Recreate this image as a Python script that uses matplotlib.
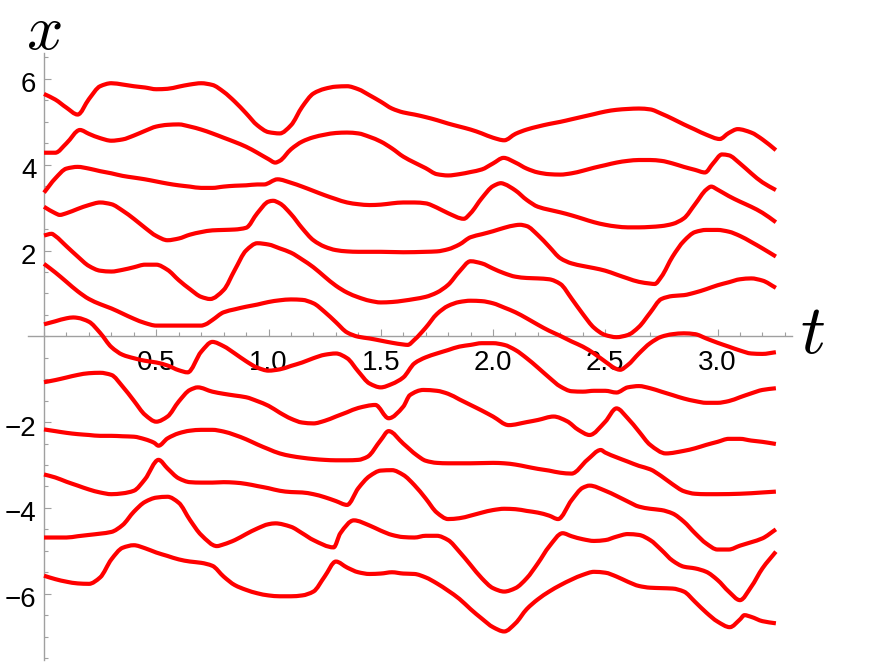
import matplotlib
matplotlib.use("Agg")
import numpy as np
import matplotlib.pyplot as plt
from matplotlib.ticker import FixedLocator, MultipleLocator, NullFormatter
from matplotlib.path import Path
from matplotlib.patches import PathPatch
from matplotlib.transforms import ScaledTranslation

# ---- data: 12 trajectories x(t) ----
t1 = [0, 0.05, 0.1, 0.15, 0.2, 0.25, 0.3, 0.35, 0.4, 0.45, 0.5, 0.55, 0.6, 0.65, 0.7, 0.75, 0.8, 0.85, 0.9, 0.95, 1.0, 1.05, 1.1, 1.15, 1.2, 1.25, 1.3, 1.35, 1.4, 1.45, 1.5, 1.55, 1.6, 1.65, 1.7, 1.75, 1.8, 1.85, 1.9, 1.95, 2.0, 2.05, 2.1, 2.15, 2.2, 2.25, 2.3, 2.35, 2.4, 2.45, 2.5, 2.55, 2.6, 2.65, 2.7, 2.75, 2.8, 2.85, 2.9, 2.95, 3.01, 3.05, 3.09, 3.15, 3.2, 3.26]
x1 = [5.65, 5.52, 5.33, 5.17, 5.53, 5.83, 5.90, 5.87, 5.83, 5.80, 5.76, 5.77, 5.82, 5.87, 5.90, 5.86, 5.70, 5.47, 5.20, 4.92, 4.76, 4.73, 4.92, 5.35, 5.66, 5.77, 5.82, 5.83, 5.76, 5.62, 5.47, 5.31, 5.22, 5.17, 5.11, 5.04, 4.96, 4.89, 4.82, 4.73, 4.63, 4.57, 4.72, 4.82, 4.89, 4.95, 5.00, 5.06, 5.12, 5.18, 5.24, 5.28, 5.30, 5.31, 5.29, 5.19, 5.07, 4.94, 4.82, 4.70, 4.60, 4.74, 4.83, 4.75, 4.59, 4.34]

t2 = [0, 0.05, 0.1, 0.16, 0.2, 0.25, 0.3, 0.35, 0.4, 0.45, 0.5, 0.55, 0.6, 0.65, 0.7, 0.75, 0.8, 0.85, 0.9, 0.95, 1.0, 1.03, 1.05, 1.1, 1.15, 1.2, 1.25, 1.3, 1.35, 1.4, 1.45, 1.5, 1.55, 1.6, 1.65, 1.7, 1.75, 1.8, 1.85, 1.9, 1.95, 2.0, 2.047, 2.1, 2.15, 2.2, 2.25, 2.3, 2.35, 2.4, 2.45, 2.5, 2.55, 2.6, 2.65, 2.7, 2.75, 2.8, 2.85, 2.9, 2.944, 2.98, 3.02, 3.05, 3.1, 3.15, 3.2, 3.26]
x2 = [4.28, 4.28, 4.50, 4.81, 4.72, 4.62, 4.56, 4.59, 4.68, 4.79, 4.89, 4.93, 4.94, 4.89, 4.82, 4.73, 4.63, 4.53, 4.42, 4.28, 4.13, 4.05, 4.09, 4.36, 4.54, 4.64, 4.70, 4.74, 4.75, 4.73, 4.65, 4.54, 4.38, 4.19, 4.05, 3.92, 3.78, 3.75, 3.78, 3.83, 3.89, 4.03, 4.16, 4.05, 3.91, 3.82, 3.78, 3.77, 3.80, 3.86, 3.93, 3.99, 4.05, 4.09, 4.11, 4.11, 4.09, 4.03, 3.95, 3.88, 3.82, 4.03, 4.24, 4.22, 4.03, 3.80, 3.59, 3.41]

t3 = [0, 0.05, 0.1, 0.15, 0.2, 0.25, 0.3, 0.35, 0.4, 0.45, 0.5, 0.55, 0.6, 0.65, 0.7, 0.75, 0.8, 0.85, 0.9, 0.95, 0.98, 1.04, 1.1, 1.15, 1.2, 1.25, 1.3, 1.35, 1.4, 1.45, 1.5, 1.55, 1.6, 1.65, 1.7, 1.75, 1.8, 1.87, 1.9, 1.95, 2.0, 2.036, 2.05, 2.1, 2.15, 2.2, 2.25, 2.3, 2.35, 2.4, 2.45, 2.5, 2.55, 2.6, 2.65, 2.7, 2.75, 2.8, 2.85, 2.9, 2.95, 2.972, 3.0, 3.05, 3.1, 3.15, 3.2, 3.26]
x3 = [3.35, 3.68, 3.91, 3.95, 3.91, 3.85, 3.80, 3.74, 3.70, 3.66, 3.61, 3.56, 3.52, 3.49, 3.46, 3.46, 3.49, 3.51, 3.52, 3.54, 3.54, 3.66, 3.58, 3.49, 3.39, 3.29, 3.20, 3.12, 3.08, 3.06, 3.07, 3.10, 3.12, 3.12, 3.10, 3.00, 2.87, 2.74, 2.87, 3.22, 3.50, 3.57, 3.55, 3.40, 3.18, 3.02, 2.95, 2.89, 2.82, 2.74, 2.66, 2.60, 2.56, 2.54, 2.54, 2.55, 2.57, 2.62, 2.75, 3.08, 3.42, 3.49, 3.42, 3.27, 3.14, 3.02, 2.88, 2.66]

t4 = [0, 0.05, 0.07, 0.1, 0.15, 0.2, 0.25, 0.3, 0.35, 0.4, 0.45, 0.5, 0.55, 0.6, 0.65, 0.7, 0.75, 0.8, 0.85, 0.9, 0.95, 1.0, 1.02, 1.05, 1.1, 1.15, 1.2, 1.25, 1.3, 1.35, 1.4, 1.5, 1.6, 1.7, 1.75, 1.8, 1.85, 1.9, 1.95, 2.0, 2.05, 2.1, 2.12, 2.15, 2.2, 2.25, 2.3, 2.35, 2.4, 2.45, 2.5, 2.55, 2.6, 2.65, 2.7, 2.72, 2.75, 2.8, 2.85, 2.9, 2.95, 3.0, 3.05, 3.1, 3.15, 3.2, 3.26]
x4 = [3.02, 2.87, 2.83, 2.87, 2.97, 3.06, 3.12, 3.08, 2.93, 2.74, 2.53, 2.34, 2.24, 2.28, 2.37, 2.43, 2.47, 2.48, 2.49, 2.53, 2.87, 3.14, 3.16, 3.10, 2.85, 2.52, 2.24, 2.09, 2.01, 1.98, 1.97, 1.97, 1.96, 1.97, 1.98, 2.03, 2.14, 2.31, 2.38, 2.45, 2.53, 2.59, 2.60, 2.57, 2.36, 2.09, 1.82, 1.70, 1.64, 1.59, 1.53, 1.44, 1.35, 1.27, 1.23, 1.22, 1.39, 1.86, 2.22, 2.43, 2.48, 2.48, 2.44, 2.34, 2.20, 2.05, 1.86]

t5 = [0, 0.034, 0.05, 0.1, 0.15, 0.2, 0.25, 0.3, 0.35, 0.4, 0.45, 0.5, 0.55, 0.6, 0.65, 0.7, 0.74, 0.8, 0.85, 0.9, 0.95, 1.0, 1.05, 1.1, 1.15, 1.2, 1.25, 1.3, 1.35, 1.4, 1.45, 1.5, 1.55, 1.6, 1.65, 1.7, 1.75, 1.8, 1.85, 1.9, 1.95, 2.0, 2.05, 2.1, 2.15, 2.2, 2.25, 2.3, 2.35, 2.4, 2.45, 2.5, 2.55, 2.6, 2.65, 2.7, 2.75, 2.8, 2.85, 2.9, 2.95, 3.0, 3.05, 3.1, 3.15, 3.2, 3.26]
x5 = [2.35, 2.39, 2.34, 2.10, 1.86, 1.64, 1.53, 1.51, 1.55, 1.61, 1.67, 1.67, 1.55, 1.31, 1.10, 0.92, 0.87, 1.08, 1.55, 2.00, 2.17, 2.14, 2.05, 1.95, 1.79, 1.61, 1.39, 1.18, 1.02, 0.91, 0.83, 0.79, 0.80, 0.83, 0.87, 0.92, 1.02, 1.20, 1.51, 1.75, 1.70, 1.58, 1.47, 1.39, 1.36, 1.35, 1.33, 1.22, 0.88, 0.52, 0.20, 0.03, -0.02, 0.03, 0.22, 0.55, 0.87, 0.94, 0.96, 1.02, 1.10, 1.19, 1.26, 1.33, 1.35, 1.30, 1.13]

t6 = [0, 0.05, 0.1, 0.15, 0.2, 0.25, 0.3, 0.35, 0.4, 0.45, 0.5, 0.55, 0.6, 0.65, 0.7, 0.72, 0.75, 0.8, 0.85, 0.9, 0.95, 1.0, 1.05, 1.1, 1.15, 1.2, 1.25, 1.3, 1.35, 1.4, 1.45, 1.5, 1.55, 1.6, 1.62, 1.65, 1.7, 1.75, 1.8, 1.85, 1.9, 1.95, 2.0, 2.05, 2.1, 2.15, 2.2, 2.25, 2.3, 2.35, 2.4, 2.45, 2.5, 2.55, 2.566, 2.6, 2.65, 2.7, 2.75, 2.8, 2.85, 2.9, 2.95, 3.0, 3.05, 3.1, 3.15, 3.2, 3.26]
x6 = [1.69, 1.49, 1.27, 1.05, 0.87, 0.75, 0.65, 0.53, 0.41, 0.31, 0.25, 0.25, 0.25, 0.25, 0.25, 0.28, 0.38, 0.56, 0.63, 0.69, 0.74, 0.80, 0.84, 0.86, 0.85, 0.77, 0.57, 0.33, 0.09, -0.01, -0.05, -0.10, -0.15, -0.19, -0.20, -0.08, 0.20, 0.52, 0.71, 0.80, 0.83, 0.82, 0.77, 0.67, 0.56, 0.42, 0.27, 0.13, 0.01, -0.12, -0.24, -0.40, -0.59, -0.76, -0.78, -0.67, -0.40, -0.16, -0.01, 0.05, 0.07, 0.05, -0.05, -0.15, -0.24, -0.33, -0.40, -0.41, -0.37]

t7 = [0, 0.05, 0.1, 0.13, 0.15, 0.2, 0.25, 0.3, 0.35, 0.4, 0.45, 0.5, 0.55, 0.6, 0.64, 0.7, 0.75, 0.8, 0.85, 0.9, 0.95, 1.0, 1.05, 1.1, 1.15, 1.2, 1.25, 1.3, 1.35, 1.4, 1.45, 1.5, 1.55, 1.6, 1.65, 1.7, 1.75, 1.8, 1.85, 1.9, 1.95, 2.0, 2.05, 2.1, 2.15, 2.2, 2.25, 2.3, 2.35, 2.4, 2.45, 2.5, 2.55, 2.6, 2.65, 2.7, 2.75, 2.8, 2.85, 2.9, 2.95, 3.0, 3.05, 3.1, 3.15, 3.2, 3.26]
x7 = [0.28, 0.35, 0.42, 0.44, 0.43, 0.34, 0.08, -0.25, -0.43, -0.51, -0.57, -0.61, -0.68, -0.79, -0.84, -0.36, -0.13, -0.23, -0.40, -0.58, -0.73, -0.80, -0.77, -0.69, -0.61, -0.51, -0.43, -0.40, -0.51, -0.82, -1.10, -1.19, -1.11, -0.96, -0.63, -0.49, -0.40, -0.32, -0.24, -0.20, -0.16, -0.16, -0.20, -0.32, -0.51, -0.73, -0.96, -1.17, -1.28, -1.29, -1.27, -1.27, -1.31, -1.19, -1.16, -1.21, -1.29, -1.37, -1.45, -1.51, -1.55, -1.55, -1.51, -1.42, -1.33, -1.25, -1.21]

t8 = [0, 0.05, 0.1, 0.15, 0.2, 0.25, 0.3, 0.35, 0.4, 0.45, 0.5, 0.55, 0.6, 0.65, 0.685, 0.75, 0.8, 0.85, 0.9, 0.95, 1.0, 1.05, 1.1, 1.15, 1.2, 1.25, 1.3, 1.35, 1.4, 1.476, 1.535, 1.6, 1.63, 1.69, 1.75, 1.8, 1.85, 1.9, 1.95, 2.0, 2.07, 2.15, 2.2, 2.27, 2.33, 2.38, 2.43, 2.5, 2.55, 2.6, 2.65, 2.7, 2.77, 2.85, 2.9, 2.95, 3.0, 3.05, 3.1, 3.15, 3.2, 3.26]
x8 = [-1.07, -1.02, -0.96, -0.90, -0.86, -0.85, -0.90, -1.17, -1.50, -1.83, -1.99, -1.87, -1.52, -1.25, -1.19, -1.29, -1.34, -1.38, -1.42, -1.51, -1.62, -1.78, -1.92, -2.01, -2.03, -1.97, -1.87, -1.77, -1.67, -1.60, -1.91, -1.64, -1.37, -1.25, -1.27, -1.34, -1.47, -1.60, -1.73, -1.87, -2.07, -2.00, -1.95, -1.87, -1.98, -2.18, -2.30, -1.99, -1.68, -1.91, -2.22, -2.53, -2.73, -2.67, -2.61, -2.53, -2.46, -2.39, -2.39, -2.43, -2.46, -2.51]

t9 = [0, 0.05, 0.1, 0.15, 0.2, 0.25, 0.3, 0.35, 0.4, 0.45, 0.49, 0.51, 0.55, 0.6, 0.65, 0.7, 0.75, 0.8, 0.85, 0.9, 0.95, 1.0, 1.05, 1.1, 1.15, 1.2, 1.25, 1.3, 1.35, 1.4, 1.44, 1.5, 1.535, 1.6, 1.66, 1.7, 1.75, 1.8, 1.9, 2.0, 2.05, 2.1, 2.15, 2.2, 2.25, 2.3, 2.35, 2.42, 2.48, 2.5, 2.55, 2.6, 2.65, 2.7, 2.75, 2.8, 2.85, 2.9, 2.95, 3.0, 3.1, 3.2, 3.26]
x9 = [-2.17, -2.21, -2.25, -2.28, -2.30, -2.32, -2.32, -2.33, -2.34, -2.40, -2.48, -2.55, -2.38, -2.26, -2.20, -2.18, -2.18, -2.22, -2.30, -2.40, -2.52, -2.63, -2.73, -2.79, -2.83, -2.86, -2.88, -2.89, -2.89, -2.88, -2.81, -2.42, -2.21, -2.50, -2.77, -2.90, -2.95, -2.96, -2.96, -2.95, -2.96, -2.99, -3.04, -3.09, -3.13, -3.18, -3.20, -2.88, -2.65, -2.71, -2.82, -2.92, -3.02, -3.10, -3.26, -3.45, -3.61, -3.67, -3.68, -3.68, -3.67, -3.64, -3.62]

t10 = [0, 0.05, 0.1, 0.15, 0.2, 0.25, 0.3, 0.35, 0.4, 0.45, 0.51, 0.55, 0.6, 0.65, 0.7, 0.75, 0.8, 0.85, 0.9, 0.95, 1.0, 1.05, 1.1, 1.15, 1.2, 1.25, 1.3, 1.35, 1.4, 1.45, 1.5, 1.55, 1.6, 1.65, 1.7, 1.75, 1.8, 1.85, 1.9, 1.95, 2.0, 2.05, 2.1, 2.15, 2.2, 2.25, 2.29, 2.35, 2.4, 2.43, 2.5, 2.55, 2.6, 2.65, 2.7, 2.75, 2.8, 2.85, 2.9, 2.95, 3.0, 3.05, 3.1, 3.15, 3.2, 3.26]
x10 = [-3.22, -3.29, -3.39, -3.48, -3.57, -3.64, -3.68, -3.66, -3.60, -3.33, -2.88, -3.08, -3.31, -3.40, -3.41, -3.41, -3.40, -3.41, -3.44, -3.49, -3.54, -3.60, -3.63, -3.64, -3.68, -3.75, -3.84, -3.93, -3.54, -3.26, -3.13, -3.12, -3.23, -3.47, -3.78, -4.11, -4.26, -4.24, -4.18, -4.11, -4.05, -4.02, -4.03, -4.07, -4.11, -4.18, -4.26, -3.82, -3.53, -3.48, -3.60, -3.72, -3.85, -3.97, -4.02, -4.05, -4.13, -4.32, -4.59, -4.83, -4.97, -4.97, -4.88, -4.80, -4.71, -4.50]

t11 = [0, 0.05, 0.1, 0.15, 0.2, 0.25, 0.3, 0.35, 0.4, 0.45, 0.5, 0.55, 0.6, 0.65, 0.7, 0.77, 0.8, 0.85, 0.9, 0.95, 1.0, 1.03, 1.1, 1.15, 1.2, 1.29, 1.32, 1.38, 1.45, 1.5, 1.55, 1.6, 1.65, 1.7, 1.75, 1.8, 1.85, 1.9, 1.95, 2.0, 2.05, 2.1, 2.15, 2.2, 2.25, 2.31, 2.35, 2.4, 2.45, 2.5, 2.55, 2.6, 2.65, 2.7, 2.75, 2.8, 2.85, 2.9, 2.95, 3.0, 3.05, 3.1, 3.15, 3.2, 3.26]
x11 = [-4.69, -4.69, -4.69, -4.66, -4.63, -4.60, -4.56, -4.40, -4.09, -3.86, -3.76, -3.74, -3.88, -4.28, -4.63, -4.89, -4.85, -4.75, -4.61, -4.48, -4.38, -4.36, -4.44, -4.59, -4.75, -4.92, -4.59, -4.29, -4.41, -4.53, -4.63, -4.68, -4.69, -4.65, -4.65, -4.75, -5.02, -5.33, -5.64, -5.87, -5.95, -5.87, -5.64, -5.29, -4.90, -4.59, -4.66, -4.73, -4.77, -4.75, -4.67, -4.61, -4.63, -4.75, -4.98, -5.23, -5.37, -5.41, -5.49, -5.68, -5.95, -6.15, -5.84, -5.41, -5.02]

t12 = [0, 0.05, 0.1, 0.15, 0.2, 0.25, 0.3, 0.35, 0.4, 0.45, 0.5, 0.55, 0.6, 0.65, 0.7, 0.75, 0.8, 0.85, 0.9, 0.95, 1.0, 1.05, 1.1, 1.15, 1.2, 1.25, 1.3, 1.35, 1.4, 1.45, 1.5, 1.55, 1.6, 1.65, 1.7, 1.75, 1.8, 1.85, 1.9, 1.95, 2.0, 2.05, 2.1, 2.15, 2.2, 2.25, 2.3, 2.35, 2.4, 2.45, 2.5, 2.55, 2.6, 2.65, 2.7, 2.75, 2.8, 2.85, 2.9, 2.95, 3.0, 3.055, 3.1, 3.12, 3.15, 3.2, 3.26]
x12 = [-5.58, -5.66, -5.72, -5.76, -5.77, -5.62, -5.20, -4.93, -4.87, -4.94, -5.04, -5.12, -5.20, -5.25, -5.28, -5.35, -5.60, -5.80, -5.91, -5.99, -6.04, -6.06, -6.06, -6.04, -5.95, -5.60, -5.25, -5.39, -5.50, -5.54, -5.53, -5.50, -5.53, -5.54, -5.62, -5.76, -5.93, -6.12, -6.36, -6.58, -6.78, -6.88, -6.69, -6.36, -6.13, -5.95, -5.80, -5.67, -5.56, -5.49, -5.51, -5.60, -5.72, -5.82, -5.86, -5.87, -5.88, -5.95, -6.19, -6.44, -6.65, -6.78, -6.60, -6.50, -6.54, -6.64, -6.69]

curves = [(t1, x1), (t2, x2), (t3, x3), (t4, x4), (t5, x5), (t6, x6),
          (t7, x7), (t8, x8), (t9, x9), (t10, x10), (t11, x11), (t12, x12)]

t_major = [0.5, 1.0, 1.5, 2.0, 2.5, 3.0]
t_labels = ["0.5", "1.0", "1.5", "2.0", "2.5", "3.0"]
x_major = [-6, -4, -2, 2, 4, 6]
x_labels = ["\u22126", "\u22124", "\u22122", "2", "4", "6"]


def smooth_path(t, x):
    """Monotone cubic (Fritsch-Carlson) curve through the read points,
    expressed as native cubic Bezier segments."""
    t = np.asarray(t, float)
    x = np.asarray(x, float)
    h = np.diff(t)
    d = np.diff(x) / h
    n = len(t)
    m = np.zeros(n)
    for i in range(1, n - 1):
        if d[i - 1] * d[i] > 0:
            w1 = 2 * h[i] + h[i - 1]
            w2 = h[i] + 2 * h[i - 1]
            m[i] = (w1 + w2) / (w1 / d[i - 1] + w2 / d[i])
    m[0], m[-1] = d[0], d[-1]
    verts = [(t[0], x[0])]
    codes = [Path.MOVETO]
    for i in range(n - 1):
        verts += [(t[i] + h[i] / 3, x[i] + m[i] * h[i] / 3),
                  (t[i + 1] - h[i] / 3, x[i + 1] - m[i + 1] * h[i] / 3),
                  (t[i + 1], x[i + 1])]
        codes += [Path.CURVE4] * 3
    return Path(verts, codes)


# ---- figure ----
W, H = 883, 666
fig = plt.figure(figsize=(W / 100, H / 100), dpi=100)
fig.patch.set_facecolor("white")
plt.rcParams["mathtext.fontset"] = "cm"

x0_px, x1_px = 28.3, 791.6
ytop_px, ybot_px = 53.2, 660.2
ax = fig.add_axes([x0_px / W, (H - ybot_px) / H, (x1_px - x0_px) / W, (ybot_px - ytop_px) / H])
ax.set_xlim(-0.07, 3.33)
ax.set_ylim(-7.55, 6.6)
ax.set_facecolor("none")

for tt, xx in curves:
    ax.add_patch(PathPatch(smooth_path(tt, xx), facecolor="none", edgecolor="#ff0000",
                           lw=3.0, capstyle="butt", joinstyle="round",
                           clip_on=False, zorder=3))

axis_col = "#a0a0a0"
for s in ["top", "right"]:
    ax.spines[s].set_visible(False)
for s in ["left", "bottom"]:
    ax.spines[s].set_position(("data", 0))
    ax.spines[s].set_color(axis_col)
    ax.spines[s].set_linewidth(1.0)
    ax.spines[s].set_zorder(1)

ax.xaxis.set_major_locator(FixedLocator(t_major))
ax.set_xticklabels(t_labels)
ax.xaxis.set_minor_locator(MultipleLocator(0.1))
ax.yaxis.set_major_locator(FixedLocator(x_major))
ax.set_yticklabels(x_labels)
ax.yaxis.set_minor_locator(MultipleLocator(0.5))
ax.xaxis.set_minor_formatter(NullFormatter())
ax.yaxis.set_minor_formatter(NullFormatter())

ax.tick_params(which="both", direction="in", color=axis_col, width=0.8)
ax.tick_params(which="major", length=5)
ax.tick_params(which="minor", length=3)
ax.tick_params(axis="x", which="major", pad=9.5, labelsize=20, labelcolor="black")
ax.tick_params(axis="y", which="major", pad=5.5, labelsize=20, labelcolor="black")
for lab in ax.get_xticklabels() + ax.get_yticklabels():
    lab.set_fontfamily("Liberation Sans")

fig.canvas.draw()
shift = ScaledTranslation(0, -3.5 / 100, fig.dpi_scale_trans)
for tick in ax.yaxis.get_major_ticks():
    tick.label1.set_transform(tick.label1.get_transform() + shift)

# axis labels (math italic)
fig.text(43.5 / W, 1 - 0.5 / H, r"$x$", fontsize=46, ha="center", va="top")
fig.text(812.5 / W, 1 - 353 / H, r"$t$", fontsize=50, ha="center", va="baseline")

fig.savefig("out.png", dpi=100, facecolor="white")
